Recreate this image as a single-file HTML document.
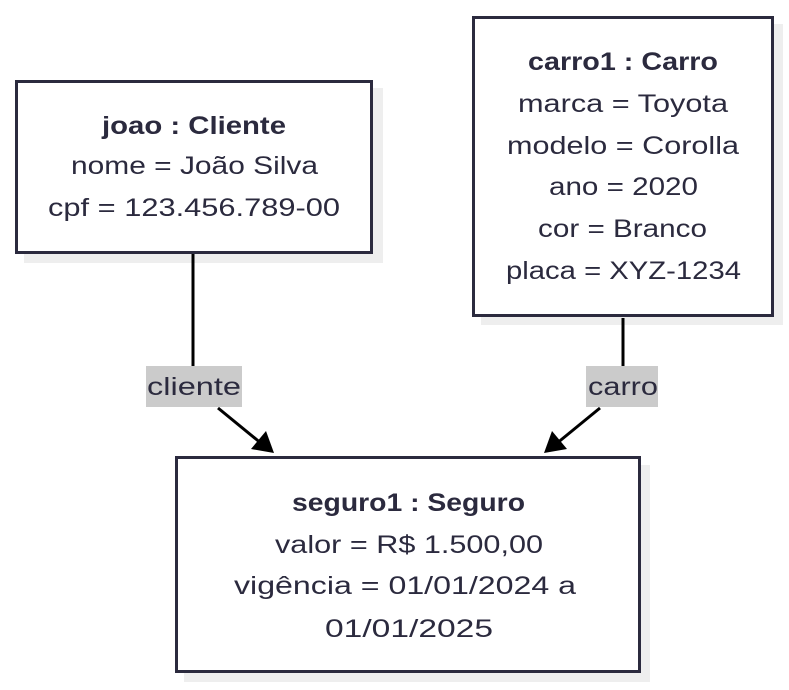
<!DOCTYPE html>
<html><head><meta charset="utf-8"><style>
html,body{margin:0;padding:0;background:#fff;}
svg{display:block;}
text{font-family:"Liberation Sans",sans-serif;font-size:25px;fill:#2b2a3e;}
.b{font-weight:bold;}
</style></head><body>
<svg width="789" height="690" viewBox="0 0 789 690" xmlns="http://www.w3.org/2000/svg">
<rect x="24" y="88" width="359" height="175" fill="#eeeeee"/>
<rect x="481" y="24" width="302" height="301" fill="#eeeeee"/>
<rect x="184" y="465" width="466" height="217" fill="#eeeeee"/>
<rect x="16.5" y="81.5" width="355" height="171" fill="#fff" stroke="#2b2a3e" stroke-width="3"/>
<rect x="473.5" y="17.5" width="299" height="298" fill="#fff" stroke="#2b2a3e" stroke-width="3"/>
<rect x="176.5" y="457.5" width="463" height="214" fill="#fff" stroke="#2b2a3e" stroke-width="3"/>
<line x1="193" y1="254" x2="193" y2="366" stroke="#000" stroke-width="3"/>
<line x1="218" y1="408" x2="262" y2="444" stroke="#000" stroke-width="3"/>
<path d="M251,449L274,453L266,431z" fill="#000"/>
<line x1="623" y1="318" x2="623" y2="366" stroke="#000" stroke-width="3"/>
<line x1="600" y1="408" x2="556" y2="444" stroke="#000" stroke-width="3"/>
<path d="M567,449L544,453L552,431z" fill="#000"/>
<rect x="146" y="366" width="96" height="41" fill="#cbcbcb"/>
<rect x="586" y="366" width="72" height="41" fill="#cbcbcb"/>
<text x="147" y="395" textLength="94" lengthAdjust="spacingAndGlyphs">cliente</text>
<text x="588" y="395" textLength="70" lengthAdjust="spacingAndGlyphs">carro</text>
<text x="102" y="134" textLength="184" lengthAdjust="spacingAndGlyphs" class="b">joao : Cliente</text>
<text x="71" y="174" textLength="247" lengthAdjust="spacingAndGlyphs">nome = João Silva</text>
<text x="48" y="216" textLength="292" lengthAdjust="spacingAndGlyphs">cpf = 123.456.789-00</text>
<text x="528" y="70" textLength="190" lengthAdjust="spacingAndGlyphs" class="b">carro1 : Carro</text>
<text x="518" y="112" textLength="210" lengthAdjust="spacingAndGlyphs">marca = Toyota</text>
<text x="507" y="154" textLength="232" lengthAdjust="spacingAndGlyphs">modelo = Corolla</text>
<text x="549" y="195" textLength="149" lengthAdjust="spacingAndGlyphs">ano = 2020</text>
<text x="538" y="237" textLength="169" lengthAdjust="spacingAndGlyphs">cor = Branco</text>
<text x="506" y="279" textLength="235" lengthAdjust="spacingAndGlyphs">placa = XYZ-1234</text>
<text x="292" y="511" textLength="233" lengthAdjust="spacingAndGlyphs" class="b">seguro1 : Seguro</text>
<text x="275" y="553" textLength="268" lengthAdjust="spacingAndGlyphs">valor = R$ 1.500,00</text>
<text x="234" y="594" textLength="342" lengthAdjust="spacingAndGlyphs">vigência = 01/01/2024 a</text>
<text x="325" y="637" textLength="168" lengthAdjust="spacingAndGlyphs">01/01/2025</text>
</svg>
</body></html>
